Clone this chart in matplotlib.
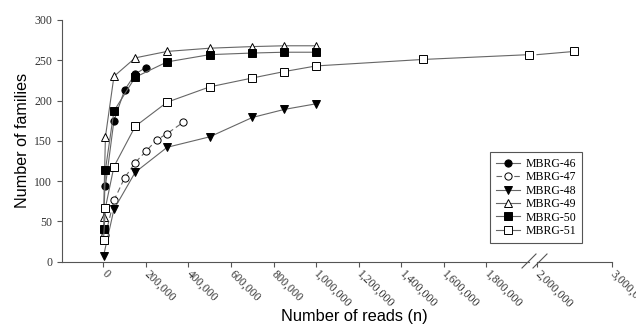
import matplotlib
matplotlib.use("Agg")
from matplotlib import pyplot as plt
from matplotlib.lines import Line2D

# rarefaction data
reads_46 = [10000, 50000, 100000, 150000, 200000]
fam_46 = [94, 175, 213, 233, 241]
reads_47 = [10000, 50000, 100000, 150000, 200000, 250000, 300000, 375000]
fam_47 = [33, 76, 104, 123, 137, 151, 159, 173]
reads_48 = [1000, 50000, 150000, 300000, 500000, 700000, 850000, 1000000]
fam_48 = [7, 65, 111, 142, 155, 179, 189, 196]
reads_49 = [1000, 10000, 50000, 150000, 300000, 500000, 700000, 850000, 1000000]
fam_49 = [55, 155, 230, 253, 261, 265, 267, 268, 268]
reads_50 = [1000, 10000, 50000, 150000, 300000, 500000, 700000, 850000, 1000000]
fam_50 = [40, 114, 187, 229, 248, 257, 259, 260, 260]
reads_51 = [1000, 10000, 50000, 150000, 300000, 500000, 700000, 850000, 1000000,
            1500000, 2000000, 2500000]
fam_51 = [27, 67, 118, 168, 198, 217, 228, 236, 243, 251, 257, 261]

labels = ['MBRG-46', 'MBRG-47', 'MBRG-48', 'MBRG-49', 'MBRG-50', 'MBRG-51']
left_ticks = [0, 200000, 400000, 600000, 800000, 1000000, 1200000, 1400000, 1600000, 1800000]
right_ticks = [2000000, 3000000]
y_ticks = [0, 50, 100, 150, 200, 250, 300]

series = [
    (reads_46, fam_46, 'o', 'black', '-'),
    (reads_47, fam_47, 'o', 'white', (0, (5, 3))),
    (reads_48, fam_48, 'v', 'black', '-'),
    (reads_49, fam_49, '^', 'white', '-'),
    (reads_50, fam_50, 's', 'black', '-'),
    (reads_51, fam_51, 's', 'white', '-'),
]

serif = 'Liberation Serif'
sans = 'Liberation Sans'
axcol = '#555555'
linecol = '#666666'

fig = plt.figure(figsize=(6.36, 3.25), dpi=100)
ax1 = fig.add_axes([62 / 636, 1 - 261.7 / 325, (529 - 62) / 636, (261.7 - 20) / 325])
ax2 = fig.add_axes([537 / 636, 1 - 261.7 / 325, (611.7 - 537) / 636, (261.7 - 20) / 325])

handles = []
for (x, y, m, fc, ls), lab in zip(series, labels):
    xa = [v for v in x if v <= 2000000]
    ya = [w for v, w in zip(x, y) if v <= 2000000]
    h, = ax1.plot(xa, ya, color=linecol, lw=0.8, ls=ls, marker=m, markersize=5.2,
                  markerfacecolor=fc, markeredgecolor='black', markeredgewidth=0.7,
                  clip_on=False, zorder=3)
    handles.append(h)
    if x[-1] > 2000000:
        xb = [v for v in x if v >= 2000000]
        yb = [w for v, w in zip(x, y) if v >= 2000000]
        ax2.plot(xb, yb, color=linecol, lw=0.8, ls=ls, marker=m, markersize=5.2,
                 markerfacecolor=fc, markeredgecolor='black', markeredgewidth=0.7,
                 markevery=list(range(1, len(xb))), clip_on=False, zorder=3)

ax1.set_xlim(-194000, 2000000)
ax2.set_xlim(2000000, 3000000)
for ax in (ax1, ax2):
    ax.set_ylim(0, 300)
    ax.spines['top'].set_visible(False)
    ax.spines['right'].set_visible(False)
    ax.spines['bottom'].set_color(axcol)
    ax.spines['left'].set_color(axcol)
    ax.spines['bottom'].set_linewidth(0.8)
    ax.spines['left'].set_linewidth(0.8)
    ax.tick_params(colors=axcol, width=0.8, length=3.5, labelcolor='#333333')
    ax.tick_params(axis='x', pad=4)
    ax.patch.set_alpha(0)

ax2.spines['left'].set_visible(False)
ax2.set_yticks([])

ax1.set_yticks(y_ticks)
ax1.set_yticklabels([str(v) for v in y_ticks], fontfamily=serif, fontsize=8.5)
ax1.set_xticks(left_ticks)
ax1.set_xticklabels([f'{v:,}' for v in left_ticks], fontfamily=serif, fontsize=8.5,
                    rotation=-45, ha='left', va='center', rotation_mode='anchor')
ax2.set_xticks(right_ticks)
ax2.set_xticklabels([f'{v:,}' for v in right_ticks], fontfamily=serif, fontsize=8.5,
                    rotation=-45, ha='left', va='center', rotation_mode='anchor')

ax1.set_ylabel('Number of families', fontfamily=sans, fontsize=11.6, labelpad=3)
fig.text(354 / 636, 1 - 316 / 325, 'Number of reads (n)', fontfamily=sans, fontsize=11.8,
         ha='center', va='center')

# axis break marks
for x0 in (522, 533):
    fig.add_artist(Line2D([x0 / 636, (x0 + 14) / 636], [1 - 268 / 325, 1 - 254 / 325],
                          color=axcol, lw=0.8))

leg = fig.legend(handles, labels, loc='upper left', bbox_to_anchor=(490 / 636, 1 - 152 / 325),
                 bbox_transform=fig.transFigure, borderaxespad=0, fancybox=False,
                 prop={'family': serif, 'size': 8.5}, handlelength=2.0, handletextpad=0.5,
                 labelspacing=0.12, borderpad=0.5, framealpha=1)
leg.get_frame().set_edgecolor(axcol)
leg.get_frame().set_linewidth(0.8)

fig.savefig('out.png', dpi=100)
